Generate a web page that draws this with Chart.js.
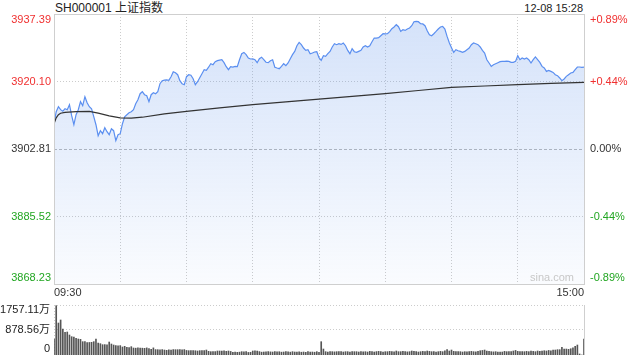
<!DOCTYPE html>
<html>
<head>
<meta charset="utf-8">
<script src="https://cdn.jsdelivr.net/npm/chart.js@4.4.0/dist/chart.umd.min.js"></script>
<style>
    body { margin: 0; background: #fff; }
    #wrap { position: relative; width: 640px; height: 360px; font-family: "Liberation Sans", Arial, "Noto Sans CJK SC", sans-serif; }
    #title { position: absolute; left: 55px; top: 0; font-size: 12px; line-height: 16px; color: #222; }
    #stamp { position: absolute; right: 57px; top: 0; font-size: 11px; line-height: 16px; color: #222; }
    canvas { position: absolute; left: 0; }
</style>
</head>
<body>
<div id="wrap">
    <div id="title">SH000001 上证指数</div>
    <div id="stamp">12-08 15:28</div>
    <canvas id="chart-price" width="640" height="300" style="top:0"></canvas>
    <canvas id="chart-volume" width="640" height="60" style="top:300px"></canvas>
</div>
<script>
    // previous close and axis ticks
    var preClose = 3902.81;
    var priceTicks = [3868.23, 3885.52, 3902.81, 3920.10, 3937.39];
    var pctLabels = ['-0.89%', '-0.44%', '0.00%', '+0.44%', '+0.89%'];
    var gridMinutes = [30, 60, 90, 120, 150, 180, 210];
    var timeTicks = [0, 240];
    var timeLabels = ['09:30', '15:00'];
    var volTicks = [0, 878.56, 1757.11];
    var volLabels = ['0', '878.56万', '1757.11万'];

    // one price per minute, 09:30 .. 15:00
    var prices = [
        3909.29, 3912.36, 3913.65, 3912.88, 3912.49, 3913.13, 3912.88, 3914.16, 3911.34, 3909.03,
        3911.60, 3912.88, 3914.93, 3913.90, 3916.21, 3914.67, 3913.65, 3913.13, 3911.08, 3909.03,
        3906.22, 3907.50, 3906.73, 3908.27, 3907.24, 3906.47, 3908.01, 3907.50, 3904.94, 3906.47,
        3906.73, 3909.29, 3911.08, 3911.60, 3912.11, 3912.36, 3912.88, 3914.41, 3915.44, 3916.98,
        3917.49, 3916.72, 3916.46, 3914.93, 3916.72, 3917.23, 3916.98, 3917.49, 3919.54, 3920.31,
        3920.43, 3920.50, 3920.38, 3921.33, 3922.61, 3922.35, 3921.84, 3920.31, 3919.54, 3919.28,
        3921.33, 3921.84, 3921.71, 3920.82, 3919.28, 3920.05, 3921.07, 3922.10, 3923.12, 3922.95,
        3923.76, 3924.66, 3924.40, 3925.17, 3925.43, 3925.56, 3925.68, 3924.92, 3923.89, 3923.12,
        3923.89, 3923.80, 3923.95, 3923.89, 3925.68, 3927.22, 3927.55, 3926.97, 3926.12, 3925.86,
        3925.90, 3925.68, 3924.92, 3925.94, 3926.32, 3925.68, 3925.04, 3924.92, 3925.43, 3925.68,
        3923.76, 3923.56, 3923.38, 3923.97, 3924.66, 3924.15, 3924.84, 3925.94, 3926.97, 3927.81,
        3929.27, 3930.12, 3929.53, 3928.68, 3928.07, 3928.25, 3927.22, 3927.40, 3927.66, 3927.73,
        3926.20, 3925.51, 3926.71, 3926.53, 3927.22, 3927.81, 3928.94, 3929.78, 3929.53, 3929.78,
        3929.60, 3929.96, 3929.27, 3928.07, 3927.22, 3928.50, 3927.73, 3927.55, 3927.81, 3928.07,
        3928.94, 3929.27, 3928.94, 3929.27, 3930.30, 3931.24, 3931.20, 3931.32, 3931.83, 3932.34,
        3932.30, 3932.34, 3932.86, 3933.63, 3934.06, 3934.65, 3934.14, 3932.93, 3933.37, 3933.19,
        3933.55, 3933.80, 3934.39, 3935.42, 3935.49, 3935.42, 3934.91, 3934.85, 3934.39, 3933.11,
        3932.09, 3931.83, 3932.34, 3932.93, 3933.55, 3934.06, 3934.21, 3933.55, 3931.65, 3930.04,
        3928.76, 3927.55, 3928.25, 3927.99, 3927.81, 3927.55, 3927.81, 3928.25, 3928.68, 3929.53,
        3929.96, 3929.78, 3929.53, 3928.94, 3928.07, 3927.40, 3925.68, 3924.84, 3923.97, 3924.40,
        3924.66, 3924.92, 3925.17, 3925.25, 3925.25, 3925.30, 3925.25, 3924.99, 3924.99, 3925.25,
        3926.71, 3925.68, 3926.12, 3925.86, 3926.12, 3925.68, 3924.84, 3925.68, 3926.38, 3925.68,
        3924.99, 3923.97, 3923.56, 3922.69, 3922.94, 3922.69, 3922.43, 3921.84, 3921.59, 3921.00,
        3920.31, 3920.74, 3921.41, 3921.84, 3922.28, 3922.43, 3923.12, 3923.81, 3923.81, 3923.71,
        3923.81
    ];

    // average price line, read at selected minutes
    var avgMinutes = [0, 1, 2, 3, 5, 10, 16, 20, 25, 30, 35, 40, 50, 60, 75, 90, 105, 120, 135, 150, 165, 180, 195, 210, 225, 240];
    var avgValues = [3909.29, 3910.80, 3911.60, 3911.98, 3912.20, 3912.40, 3912.45, 3912.00, 3911.30, 3910.80,
        3910.70, 3910.95, 3911.80, 3912.45, 3913.35, 3914.16, 3914.90, 3915.57, 3916.30, 3916.97,
        3917.80, 3918.59, 3918.95, 3919.28, 3919.60, 3919.87];

    // volume per minute, in 万
    var volumes = [
        562, 1733, 1124, 1230, 913, 796, 808, 703, 644, 632,
        585, 562, 550, 468, 468, 433, 440, 445, 468, 562,
        421, 398, 363, 365, 360, 456, 386, 351, 328, 320,
        330, 281, 305, 270, 258, 293, 246, 240, 250, 246,
        240, 235, 250, 230, 200, 250, 190, 187, 180, 190,
        175, 165, 180, 170, 190, 187, 187, 187, 180, 190,
        160, 152, 152, 155, 150, 140, 152, 152, 152, 175,
        130, 117, 117, 120, 140, 140, 140, 145, 130, 140,
        125, 94, 100, 94, 100, 117, 110, 117, 90, 95,
        140, 150, 140, 120, 100, 105, 110, 120, 110, 105,
        120, 110, 115, 100, 105, 117, 110, 100, 117, 105,
        100, 110, 98, 105, 94, 117, 100, 105, 98, 117,
        94, 468, 210, 117, 105, 117, 117, 110, 117, 117,
        117, 105, 117, 117, 105, 117, 117, 117, 105, 117,
        110, 117, 105, 128, 117, 105, 120, 128, 117, 105,
        117, 117, 128, 117, 110, 140, 117, 117, 128, 117,
        110, 117, 140, 128, 117, 105, 117, 128, 117, 140,
        128, 117, 117, 105, 117, 128, 117, 150, 187, 140,
        175, 128, 117, 117, 117, 105, 117, 110, 117, 128,
        117, 110, 128, 150, 160, 175, 140, 128, 117, 110,
        117, 105, 105, 105, 128, 117, 117, 117, 140, 160,
        128, 117, 117, 117, 128, 117, 140, 128, 117, 140,
        128, 140, 150, 140, 160, 150, 175, 175, 187, 187,
        270, 210, 210, 200, 220, 250, 304, 351, 35, 0,
        562
    ];

    var labelFont = '11px "Liberation Sans", Arial, "Noto Sans CJK SC", sans-serif';
    Chart.defaults.font.family = '"Liberation Sans", Arial, "Noto Sans CJK SC", sans-serif';

    function tickColor(v) {
        if (v > preClose) return '#f03030';
        if (v < preClose) return '#22a622';
        return '#333';
    }

    function areaFill(context) {
        var chart = context.chart;
        var area = chart.chartArea;
        if (!area) return 'rgba(100,150,235,0.15)';
        var g = chart.ctx.createLinearGradient(0, area.top, 0, area.bottom);
        g.addColorStop(0, 'rgba(100,150,235,0.28)');
        g.addColorStop(1, 'rgba(100,150,235,0.03)');
        return g;
    }

    var priceDecor = {
        id: 'priceDecor',
        afterDraw: function(chart) {
            var c = chart.ctx, a = chart.chartArea;
            var y = chart.scales.y, y2 = chart.scales.y2, x = chart.scales.x;
            c.save();
            c.strokeStyle = '#cfcfcf';
            c.lineWidth = 1;
            c.strokeRect(a.left + 0.5, a.top + 0.5, a.right - a.left, a.bottom - a.top);

            c.font = labelFont;
            c.textBaseline = 'middle';
            priceTicks.forEach(function(v, k) {
                var py = Math.min(Math.max(y.getPixelForValue(v), a.top + 6), a.bottom - 6);
                c.fillStyle = tickColor(v);
                c.textAlign = 'right';
                c.fillText(v.toFixed(2), a.left - 3, py);
                var py2 = Math.min(Math.max(y2.getPixelForValue(v), a.top + 6), a.bottom - 6);
                c.textAlign = 'left';
                c.fillText(pctLabels[k], a.right + 6, py2);
            });

            c.fillStyle = '#333';
            timeTicks.forEach(function(m, k) {
                c.textAlign = k === 0 ? 'left' : 'right';
                c.fillText(timeLabels[k], x.getPixelForValue(m), a.bottom + 9);
            });

            c.fillStyle = '#c8c8c8';
            c.textAlign = 'right';
            c.textBaseline = 'bottom';
            c.fillText('sina.com', a.right - 10, a.bottom - 1);
            c.restore();
        }
    };

    var volumeDecor = {
        id: 'volumeDecor',
        afterDraw: function(chart) {
            var c = chart.ctx, a = chart.chartArea, y = chart.scales.y;
            c.save();
            c.strokeStyle = '#cfcfcf';
            c.lineWidth = 1;
            c.beginPath();
            c.moveTo(a.right + 0.5, a.top);
            c.lineTo(a.right + 0.5, a.bottom);
            c.stroke();

            c.font = labelFont;
            c.fillStyle = '#222';
            c.textAlign = 'right';
            c.textBaseline = 'middle';
            volTicks.forEach(function(v, k) {
                var py = Math.min(Math.max(y.getPixelForValue(v), a.top + 5), a.bottom - 6);
                c.fillText(volLabels[k], a.left - 4, py);
            });
            c.restore();
        }
    };

    var configPrice = {
        type: 'line',
        data: {
            datasets: [{
                data: avgMinutes.map(function(m, k) { return { x: m, y: avgValues[k] }; }),
                borderColor: '#333',
                borderWidth: 1.2,
                pointRadius: 0,
                fill: false,
                order: 0
            }, {
                data: prices.map(function(v, i) { return { x: i, y: v }; }),
                borderColor: '#5b8ff0',
                borderWidth: 1.2,
                pointRadius: 0,
                fill: 'start',
                backgroundColor: areaFill,
                order: 1
            }]
        },
        options: {
            responsive: false,
            animation: false,
            events: [],
            layout: { padding: { top: 14, bottom: 16, left: 0, right: 0 } },
            plugins: { legend: { display: false }, tooltip: { enabled: false } },
            scales: {
                x: {
                    type: 'linear', min: 0, max: 240,
                    afterBuildTicks: function(axis) { axis.ticks = gridMinutes.map(function(m) { return { value: m }; }); },
                    afterFit: function(s) { s.height = 0; },
                    ticks: { display: false },
                    grid: { color: '#cccccc', drawTicks: false },
                    border: { display: false, dash: [1, 2] }
                },
                y: {
                    position: 'left', min: 3868.23, max: 3937.39,
                    afterBuildTicks: function(axis) { axis.ticks = priceTicks.map(function(v) { return { value: v }; }); },
                    afterFit: function(s) { s.width = 54; },
                    ticks: { display: false },
                    grid: {
                        drawTicks: false,
                        color: function(ctx) { return ctx.tick && ctx.tick.value === preClose ? '#b8b8b8' : '#cccccc'; }
                    },
                    border: {
                        display: false,
                        dash: function(ctx) { return ctx.tick && ctx.tick.value === preClose ? [3, 2] : [1, 2]; }
                    }
                },
                y2: {
                    position: 'right', min: 3868.23, max: 3937.39,
                    afterFit: function(s) { s.width = 56; },
                    ticks: { display: false },
                    grid: { display: false },
                    border: { display: false }
                }
            }
        },
        plugins: [priceDecor]
    };

    var configVolume = {
        type: 'bar',
        data: {
            datasets: [{
                data: volumes.map(function(v, i) { return { x: i, y: v }; }),
                backgroundColor: '#555',
                borderWidth: 0,
                barThickness: 1
            }]
        },
        options: {
            responsive: false,
            animation: false,
            events: [],
            layout: { padding: { top: 5, bottom: 5, left: 0, right: 56 } },
            plugins: { legend: { display: false }, tooltip: { enabled: false } },
            scales: {
                x: {
                    type: 'linear', min: 0, max: 240, offset: false,
                    afterBuildTicks: function(axis) { axis.ticks = [{ value: 0 }]; },
                    afterFit: function(s) { s.height = 0; },
                    ticks: { display: false },
                    grid: { color: '#cccccc', drawTicks: false, offset: false },
                    border: { display: false, dash: [1, 2] }
                },
                y: {
                    min: 0, max: 1757.11,
                    afterBuildTicks: function(axis) { axis.ticks = [{ value: 878.56 }, { value: 1757.11 }]; },
                    afterFit: function(s) { s.width = 54; },
                    ticks: { display: false },
                    grid: { color: '#cccccc', drawTicks: false },
                    border: { display: false, dash: [1, 2] }
                }
            }
        },
        plugins: [volumeDecor]
    };

    window.onload = function() {
        var ctxPrice = document.getElementById('chart-price').getContext('2d');
        window.priceChart = new Chart(ctxPrice, configPrice);
        var ctxVolume = document.getElementById('chart-volume').getContext('2d');
        window.volumeChart = new Chart(ctxVolume, configVolume);
    };
</script>
</body>
</html>
